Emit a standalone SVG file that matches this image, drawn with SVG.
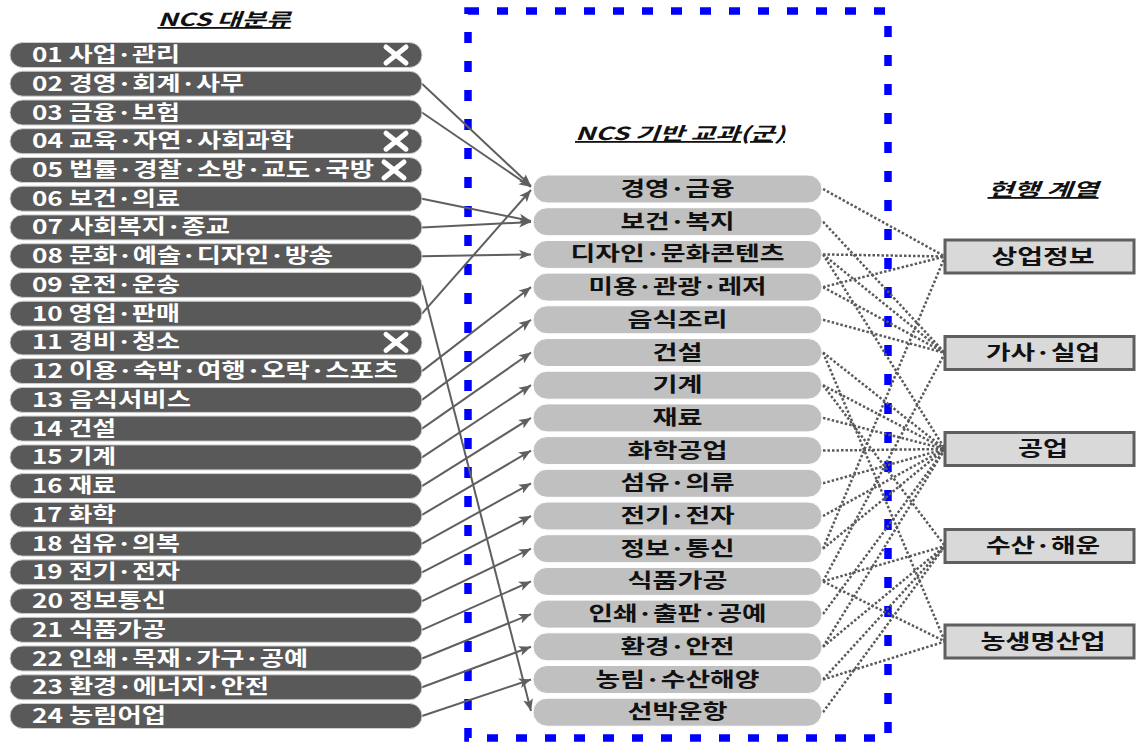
<svg xmlns="http://www.w3.org/2000/svg" width="1136" height="742" viewBox="0 0 1136 742">
<style>
.bg{fill:#fff}
.lp{fill:#595959;stroke:#cfcfcf;stroke-width:1}
.mp{fill:#c0c0c0;stroke:#ffffff;stroke-width:1}
.rb{fill:#d9d9d9;stroke:#5f5f5f;stroke-width:3}
.lt{font-family:"Noto Sans CJK KR","Noto Sans",sans-serif;font-size:20px;font-weight:bold;fill:#ffffff}
.mt{font-family:"Noto Sans CJK KR","Noto Sans",sans-serif;font-size:20px;font-weight:bold;fill:#111111;text-anchor:middle}
.tt{font-family:"Noto Sans CJK KR","Noto Sans",sans-serif;font-size:18px;font-weight:bold;font-style:italic;fill:#111111;text-decoration:underline;text-anchor:middle}
.ar{stroke:#5f5f5f;stroke-width:2;fill:none}
.dt{stroke:#5a5a5a;stroke-width:2.5;stroke-dasharray:2.5 2;fill:none}
.xm{stroke:#ffffff;stroke-width:5;stroke-linecap:round}
.frame{fill:none;stroke:#0000ff;stroke-width:7.5;stroke-dasharray:11 18}
</style>
<defs>
<marker id="ah" markerUnits="userSpaceOnUse" markerWidth="14" markerHeight="10" refX="12" refY="5" orient="auto">
<path d="M0,0 L12,5 L0,10 L3,5 z" fill="#5f5f5f"/>
</marker>
</defs>
<rect class="bg" x="0" y="0" width="1136" height="742"/>

<g id="titles">
<text class="tt" x="224" y="26" textLength="133" lengthAdjust="spacingAndGlyphs">NCS 대분류</text>
<text class="tt" x="680" y="140" textLength="210" lengthAdjust="spacingAndGlyphs">NCS 기반 교과(군)</text>
<text class="tt" x="1043" y="196" textLength="111" lengthAdjust="spacingAndGlyphs">현행 계열</text>
</g>

<rect id="frame" class="frame" x="468" y="11" width="420" height="727"/>

<g id="connectors">
<g id="arrows">
<line class="ar" x1="422" y1="83.7" x2="531" y2="186" marker-end="url(#ah)"/>
<line class="ar" x1="422" y1="112.5" x2="531" y2="187" marker-end="url(#ah)"/>
<line class="ar" x1="422" y1="313.7" x2="531" y2="190" marker-end="url(#ah)"/>
<line class="ar" x1="422" y1="198.7" x2="531" y2="221" marker-end="url(#ah)"/>
<line class="ar" x1="422" y1="227.4" x2="531" y2="222" marker-end="url(#ah)"/>
<line class="ar" x1="422" y1="256.2" x2="531" y2="254.4" marker-end="url(#ah)"/>
<line class="ar" x1="422" y1="284.9" x2="531" y2="711" marker-end="url(#ah)"/>
<line class="ar" x1="422" y1="371.1" x2="531" y2="287.1" marker-end="url(#ah)"/>
<line class="ar" x1="422" y1="399.9" x2="531" y2="319.8" marker-end="url(#ah)"/>
<line class="ar" x1="422" y1="428.6" x2="531" y2="352.5" marker-end="url(#ah)"/>
<line class="ar" x1="422" y1="457.4" x2="531" y2="385.2" marker-end="url(#ah)"/>
<line class="ar" x1="422" y1="486.1" x2="531" y2="417.9" marker-end="url(#ah)"/>
<line class="ar" x1="422" y1="514.8" x2="531" y2="450.6" marker-end="url(#ah)"/>
<line class="ar" x1="422" y1="543.6" x2="531" y2="483.3" marker-end="url(#ah)"/>
<line class="ar" x1="422" y1="572.3" x2="531" y2="516" marker-end="url(#ah)"/>
<line class="ar" x1="422" y1="601.1" x2="531" y2="548.7" marker-end="url(#ah)"/>
<line class="ar" x1="422" y1="629.8" x2="531" y2="581.4" marker-end="url(#ah)"/>
<line class="ar" x1="422" y1="658.5" x2="531" y2="614.1" marker-end="url(#ah)"/>
<line class="ar" x1="422" y1="687.3" x2="531" y2="646.8" marker-end="url(#ah)"/>
<line class="ar" x1="422" y1="716" x2="531" y2="679.5" marker-end="url(#ah)"/>
</g>
<g id="dotted">
<line class="dt" x1="823" y1="189" x2="945" y2="256.5"/>
<line class="dt" x1="823" y1="221.7" x2="945" y2="353"/>
<line class="dt" x1="823" y1="254.4" x2="945" y2="256.5"/>
<line class="dt" x1="823" y1="254.4" x2="945" y2="353"/>
<line class="dt" x1="823" y1="254.4" x2="945" y2="449"/>
<line class="dt" x1="823" y1="287.1" x2="945" y2="256.5"/>
<line class="dt" x1="823" y1="287.1" x2="945" y2="353"/>
<line class="dt" x1="823" y1="319.8" x2="945" y2="353"/>
<line class="dt" x1="823" y1="352.5" x2="945" y2="449"/>
<line class="dt" x1="823" y1="352.5" x2="945" y2="641.5"/>
<line class="dt" x1="823" y1="385.2" x2="945" y2="449"/>
<line class="dt" x1="823" y1="385.2" x2="945" y2="546"/>
<line class="dt" x1="823" y1="417.9" x2="945" y2="449"/>
<line class="dt" x1="823" y1="450.6" x2="945" y2="449"/>
<line class="dt" x1="823" y1="483.3" x2="945" y2="449"/>
<line class="dt" x1="823" y1="516" x2="945" y2="449"/>
<line class="dt" x1="823" y1="548.7" x2="945" y2="256.5"/>
<line class="dt" x1="823" y1="548.7" x2="945" y2="449"/>
<line class="dt" x1="823" y1="581.4" x2="945" y2="353"/>
<line class="dt" x1="823" y1="581.4" x2="945" y2="546"/>
<line class="dt" x1="823" y1="581.4" x2="945" y2="641.5"/>
<line class="dt" x1="823" y1="614.1" x2="945" y2="449"/>
<line class="dt" x1="823" y1="646.8" x2="945" y2="449"/>
<line class="dt" x1="823" y1="646.8" x2="945" y2="546"/>
<line class="dt" x1="823" y1="679.5" x2="945" y2="546"/>
<line class="dt" x1="823" y1="679.5" x2="945" y2="641.5"/>
<line class="dt" x1="823" y1="712.2" x2="945" y2="546"/>
</g>
</g>

<g id="left-nodes">
<g id="l01"><rect class="lp" x="10" y="42.5" width="412" height="25" rx="12.5"/><text class="lt" x="32" y="62" textLength="148" lengthAdjust="spacingAndGlyphs">01 사업·관리</text><line class="xm" x1="386" y1="47" x2="406" y2="63"/><line class="xm" x1="406" y1="47" x2="386" y2="63"/></g>
<g id="l02"><rect class="lp" x="10" y="71.2" width="412" height="25" rx="12.5"/><text class="lt" x="32" y="90.7" textLength="212" lengthAdjust="spacingAndGlyphs">02 경영·회계·사무</text></g>
<g id="l03"><rect class="lp" x="10" y="100" width="412" height="25" rx="12.5"/><text class="lt" x="32" y="119.5" textLength="148" lengthAdjust="spacingAndGlyphs">03 금융·보험</text></g>
<g id="l04"><rect class="lp" x="10" y="128.7" width="412" height="25" rx="12.5"/><text class="lt" x="32" y="148.2" textLength="262" lengthAdjust="spacingAndGlyphs">04 교육·자연·사회과학</text><line class="xm" x1="386" y1="133.2" x2="406" y2="149.2"/><line class="xm" x1="406" y1="133.2" x2="386" y2="149.2"/></g>
<g id="l05"><rect class="lp" x="10" y="157.5" width="412" height="25" rx="12.5"/><text class="lt" x="32" y="177" textLength="342" lengthAdjust="spacingAndGlyphs">05 법률·경찰·소방·교도·국방</text><line class="xm" x1="384" y1="162" x2="404" y2="178"/><line class="xm" x1="404" y1="162" x2="384" y2="178"/></g>
<g id="l06"><rect class="lp" x="10" y="186.2" width="412" height="25" rx="12.5"/><text class="lt" x="32" y="205.7" textLength="148" lengthAdjust="spacingAndGlyphs">06 보건·의료</text></g>
<g id="l07"><rect class="lp" x="10" y="214.9" width="412" height="25" rx="12.5"/><text class="lt" x="32" y="234.4" textLength="198" lengthAdjust="spacingAndGlyphs">07 사회복지·종교</text></g>
<g id="l08"><rect class="lp" x="10" y="243.7" width="412" height="25" rx="12.5"/><text class="lt" x="32" y="263.2" textLength="301" lengthAdjust="spacingAndGlyphs">08 문화·예술·디자인·방송</text></g>
<g id="l09"><rect class="lp" x="10" y="272.4" width="412" height="25" rx="12.5"/><text class="lt" x="32" y="291.9" textLength="148" lengthAdjust="spacingAndGlyphs">09 운전·운송</text></g>
<g id="l10"><rect class="lp" x="10" y="301.2" width="412" height="25" rx="12.5"/><text class="lt" x="32" y="320.7" textLength="148" lengthAdjust="spacingAndGlyphs">10 영업·판매</text></g>
<g id="l11"><rect class="lp" x="10" y="329.9" width="412" height="25" rx="12.5"/><text class="lt" x="32" y="349.4" textLength="148" lengthAdjust="spacingAndGlyphs">11 경비·청소</text><line class="xm" x1="386" y1="334.4" x2="406" y2="350.4"/><line class="xm" x1="406" y1="334.4" x2="386" y2="350.4"/></g>
<g id="l12"><rect class="lp" x="10" y="358.6" width="412" height="25" rx="12.5"/><text class="lt" x="32" y="378.1" textLength="366" lengthAdjust="spacingAndGlyphs">12 이용·숙박·여행·오락·스포츠</text></g>
<g id="l13"><rect class="lp" x="10" y="387.4" width="412" height="25" rx="12.5"/><text class="lt" x="32" y="406.9" textLength="159" lengthAdjust="spacingAndGlyphs">13 음식서비스</text></g>
<g id="l14"><rect class="lp" x="10" y="416.1" width="412" height="25" rx="12.5"/><text class="lt" x="32" y="435.6" textLength="84" lengthAdjust="spacingAndGlyphs">14 건설</text></g>
<g id="l15"><rect class="lp" x="10" y="444.9" width="412" height="25" rx="12.5"/><text class="lt" x="32" y="464.4" textLength="84" lengthAdjust="spacingAndGlyphs">15 기계</text></g>
<g id="l16"><rect class="lp" x="10" y="473.6" width="412" height="25" rx="12.5"/><text class="lt" x="32" y="493.1" textLength="84" lengthAdjust="spacingAndGlyphs">16 재료</text></g>
<g id="l17"><rect class="lp" x="10" y="502.3" width="412" height="25" rx="12.5"/><text class="lt" x="32" y="521.8" textLength="84" lengthAdjust="spacingAndGlyphs">17 화학</text></g>
<g id="l18"><rect class="lp" x="10" y="531.1" width="412" height="25" rx="12.5"/><text class="lt" x="32" y="550.6" textLength="148" lengthAdjust="spacingAndGlyphs">18 섬유·의복</text></g>
<g id="l19"><rect class="lp" x="10" y="559.8" width="412" height="25" rx="12.5"/><text class="lt" x="32" y="579.3" textLength="148" lengthAdjust="spacingAndGlyphs">19 전기·전자</text></g>
<g id="l20"><rect class="lp" x="10" y="588.6" width="412" height="25" rx="12.5"/><text class="lt" x="32" y="608.1" textLength="134" lengthAdjust="spacingAndGlyphs">20 정보통신</text></g>
<g id="l21"><rect class="lp" x="10" y="617.3" width="412" height="25" rx="12.5"/><text class="lt" x="32" y="636.8" textLength="134" lengthAdjust="spacingAndGlyphs">21 식품가공</text></g>
<g id="l22"><rect class="lp" x="10" y="646" width="412" height="25" rx="12.5"/><text class="lt" x="32" y="665.5" textLength="276" lengthAdjust="spacingAndGlyphs">22 인쇄·목재·가구·공예</text></g>
<g id="l23"><rect class="lp" x="10" y="674.8" width="412" height="25" rx="12.5"/><text class="lt" x="32" y="694.3" textLength="237" lengthAdjust="spacingAndGlyphs">23 환경·에너지·안전</text></g>
<g id="l24"><rect class="lp" x="10" y="703.5" width="412" height="25" rx="12.5"/><text class="lt" x="32" y="723" textLength="134" lengthAdjust="spacingAndGlyphs">24 농림어업</text></g>
</g>

<g id="middle-nodes">
<g id="m01"><rect class="mp" x="533" y="175" width="289" height="28" rx="14"/><text class="mt" x="677.5" y="196" textLength="114" lengthAdjust="spacingAndGlyphs">경영·금융</text></g>
<g id="m02"><rect class="mp" x="533" y="207.7" width="289" height="28" rx="14"/><text class="mt" x="677.5" y="228.7" textLength="114" lengthAdjust="spacingAndGlyphs">보건·복지</text></g>
<g id="m03"><rect class="mp" x="533" y="240.4" width="289" height="28" rx="14"/><text class="mt" x="677.5" y="261.4" textLength="214" lengthAdjust="spacingAndGlyphs">디자인·문화콘텐츠</text></g>
<g id="m04"><rect class="mp" x="533" y="273.1" width="289" height="28" rx="14"/><text class="mt" x="677.5" y="294.1" textLength="178" lengthAdjust="spacingAndGlyphs">미용·관광·레저</text></g>
<g id="m05"><rect class="mp" x="533" y="305.8" width="289" height="28" rx="14"/><text class="mt" x="677.5" y="326.8" textLength="100" lengthAdjust="spacingAndGlyphs">음식조리</text></g>
<g id="m06"><rect class="mp" x="533" y="338.5" width="289" height="28" rx="14"/><text class="mt" x="677.5" y="359.5" textLength="50" lengthAdjust="spacingAndGlyphs">건설</text></g>
<g id="m07"><rect class="mp" x="533" y="371.2" width="289" height="28" rx="14"/><text class="mt" x="677.5" y="392.2" textLength="50" lengthAdjust="spacingAndGlyphs">기계</text></g>
<g id="m08"><rect class="mp" x="533" y="403.9" width="289" height="28" rx="14"/><text class="mt" x="677.5" y="424.9" textLength="50" lengthAdjust="spacingAndGlyphs">재료</text></g>
<g id="m09"><rect class="mp" x="533" y="436.6" width="289" height="28" rx="14"/><text class="mt" x="677.5" y="457.6" textLength="100" lengthAdjust="spacingAndGlyphs">화학공업</text></g>
<g id="m10"><rect class="mp" x="533" y="469.3" width="289" height="28" rx="14"/><text class="mt" x="677.5" y="490.3" textLength="114" lengthAdjust="spacingAndGlyphs">섬유·의류</text></g>
<g id="m11"><rect class="mp" x="533" y="502" width="289" height="28" rx="14"/><text class="mt" x="677.5" y="523" textLength="114" lengthAdjust="spacingAndGlyphs">전기·전자</text></g>
<g id="m12"><rect class="mp" x="533" y="534.7" width="289" height="28" rx="14"/><text class="mt" x="677.5" y="555.7" textLength="114" lengthAdjust="spacingAndGlyphs">정보·통신</text></g>
<g id="m13"><rect class="mp" x="533" y="567.4" width="289" height="28" rx="14"/><text class="mt" x="677.5" y="588.4" textLength="100" lengthAdjust="spacingAndGlyphs">식품가공</text></g>
<g id="m14"><rect class="mp" x="533" y="600.1" width="289" height="28" rx="14"/><text class="mt" x="677.5" y="621.1" textLength="178" lengthAdjust="spacingAndGlyphs">인쇄·출판·공예</text></g>
<g id="m15"><rect class="mp" x="533" y="632.8" width="289" height="28" rx="14"/><text class="mt" x="677.5" y="653.8" textLength="114" lengthAdjust="spacingAndGlyphs">환경·안전</text></g>
<g id="m16"><rect class="mp" x="533" y="665.5" width="289" height="28" rx="14"/><text class="mt" x="677.5" y="686.5" textLength="164" lengthAdjust="spacingAndGlyphs">농림·수산해양</text></g>
<g id="m17"><rect class="mp" x="533" y="698.2" width="289" height="28" rx="14"/><text class="mt" x="677.5" y="719.2" textLength="100" lengthAdjust="spacingAndGlyphs">선박운항</text></g>
</g>

<g id="right-nodes">
<g id="r1"><rect class="rb" x="945" y="240" width="189" height="33"/><text class="mt" x="1043" y="263.5" textLength="103" lengthAdjust="spacingAndGlyphs">상업정보</text></g>
<g id="r2"><rect class="rb" x="945" y="336.5" width="189" height="33"/><text class="mt" x="1043" y="360" textLength="114" lengthAdjust="spacingAndGlyphs">가사·실업</text></g>
<g id="r3"><rect class="rb" x="945" y="432.5" width="189" height="33"/><text class="mt" x="1043" y="456" textLength="50" lengthAdjust="spacingAndGlyphs">공업</text></g>
<g id="r4"><rect class="rb" x="945" y="529.5" width="189" height="33"/><text class="mt" x="1043" y="553" textLength="114" lengthAdjust="spacingAndGlyphs">수산·해운</text></g>
<g id="r5"><rect class="rb" x="945" y="625" width="189" height="33"/><text class="mt" x="1043" y="648.5" textLength="125" lengthAdjust="spacingAndGlyphs">농생명산업</text></g>
</g>
</svg>
